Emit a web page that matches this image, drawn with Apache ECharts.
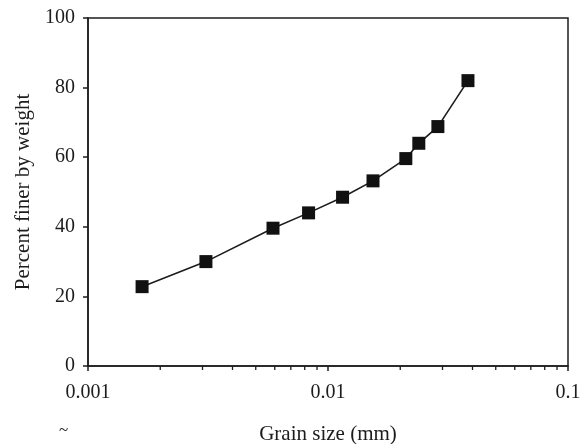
<!DOCTYPE html>
<html>
<head>
<meta charset="utf-8">
<script src="https://cdn.jsdelivr.net/npm/echarts@6/dist/echarts.min.js"></script>
<style>
html, body { margin: 0; padding: 0; background: #fff; }
#main { width: 580px; height: 444px; }
</style>
</head>
<body>
<div id="main"></div>
<script>
var grainSize = [0.00168, 0.0031, 0.0059, 0.0083, 0.0115, 0.0154, 0.0211, 0.0239, 0.0287, 0.0383];
var percentFiner = [22.8, 30, 39.6, 44, 48.5, 53.2, 59.6, 64, 68.8, 82];
var minorTicks = [0.002, 0.003, 0.004, 0.005, 0.006, 0.007, 0.008, 0.009,
    0.02, 0.03, 0.04, 0.05, 0.06, 0.07, 0.08, 0.09];

var myChart = echarts.init(document.getElementById('main'));

var ink = '#1c1c1c';
var font = 'Liberation Serif';

var option = {
    backgroundColor: '#fff',
    animation: false,
    grid: {
        left: 88,
        right: 12,
        top: 18,
        bottom: 78,
        outerBoundsMode: 'none',
        show: true,
        borderColor: ink,
        borderWidth: 1.5,
        backgroundColor: 'transparent'
    },
    xAxis: {
        type: 'log',
        logBase: 10,
        min: 0.001,
        max: 0.1,
        name: 'Grain size (mm)',
        nameLocation: 'middle',
        nameGap: 58,
        nameTextStyle: { fontFamily: font, fontSize: 21, color: ink },
        axisLine: { lineStyle: { color: ink, width: 1.5 } },
        axisTick: { show: true, length: 5, lineStyle: { color: ink, width: 1.5 } },
        splitLine: { show: false },
        axisLabel: {
            fontFamily: font,
            fontSize: 20,
            color: ink,
            margin: 17,
            formatter: function (v) { return String(+v.toPrecision(1)); }
        }
    },
    yAxis: {
        type: 'value',
        min: 0,
        max: 100,
        interval: 20,
        name: 'Percent finer by weight',
        nameLocation: 'middle',
        nameGap: 53,
        nameTextStyle: { fontFamily: font, fontSize: 21, color: ink },
        axisLine: { show: true, lineStyle: { color: ink, width: 1.5 } },
        axisTick: { show: true, length: 5, lineStyle: { color: ink, width: 1.5 } },
        splitLine: { show: false },
        axisLabel: { fontFamily: font, fontSize: 20, color: ink, margin: 13 }
    },
    graphic: [{
        type: 'text',
        left: 59,
        top: 422,
        style: { text: '~', fontFamily: font, fontSize: 17, fill: ink }
    }],
    series: [{
        type: 'line',
        data: grainSize.map(function (g, i) { return [g, percentFiner[i]]; }),
        symbol: 'rect',
        symbolSize: 13,
        lineStyle: { color: ink, width: 1.6 },
        itemStyle: { color: '#111' },
        z: 3
    }, {
        type: 'custom',
        silent: true,
        data: minorTicks,
        renderItem: function (params, api) {
            var p = api.coord([api.value(0), 0]);
            return {
                type: 'line',
                shape: { x1: p[0], y1: p[1], x2: p[0], y2: p[1] + 4 },
                style: { stroke: ink, lineWidth: 1.3 }
            };
        },
        encode: { x: 0 },
        z: 2
    }]
};
myChart.setOption(option);
</script>
</body>
</html>
